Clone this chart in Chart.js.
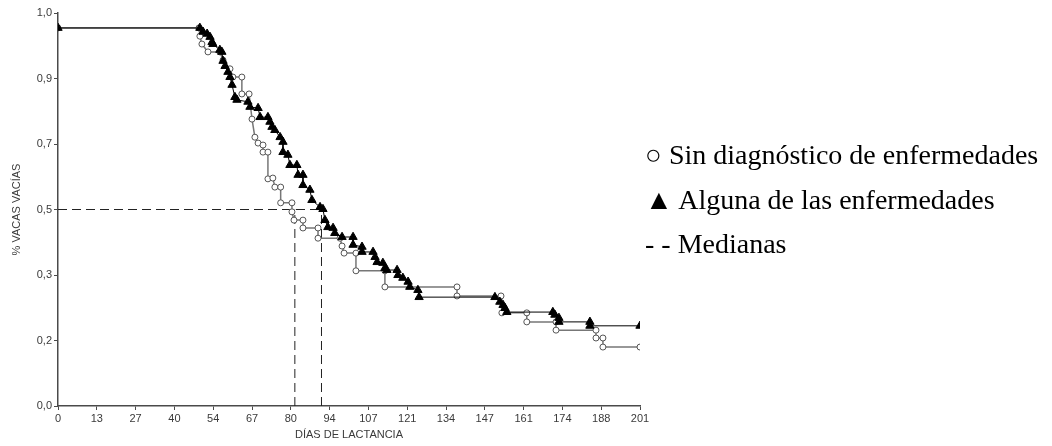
<!DOCTYPE html>
<html>
<head>
<meta charset="utf-8">
<script src="https://cdn.jsdelivr.net/npm/chart.js@4"></script>
<style>
  html, body { margin: 0; padding: 0; background: #fff; }
  body { width: 1052px; height: 446px; position: relative; overflow: hidden; }
  #wrap { position: absolute; left: 0; top: 0; width: 660px; height: 446px; }
  .leyenda { position: absolute; left: 645px; font-family: "Liberation Serif", "Times New Roman", serif; font-size: 28px; line-height: 30px; color: #000; white-space: nowrap; }
</style>
</head>
<body>
<div id="wrap"><canvas id="supervivencia"></canvas></div>
<div class="leyenda" style="top:140px">○ Sin diagnóstico de enfermedades</div>
<div class="leyenda" style="top:185px">▲ Alguna de las enfermedades</div>
<div class="leyenda" style="top:229px">- - Medianas</div>
<script>
// eje X: 0..201 en 15 intervalos, eje Y: 0..1 en 6 intervalos
const xTickLabels = ['0', '13', '27', '40', '54', '67', '80', '94', '107', '121', '134', '147', '161', '174', '188', '201'];
const yTickLabels = ['0,0', '0,2', '0,3', '0,5', '0,7', '0,9', '1,0'];
const xMax = 201;

// Sin diagnóstico de enfermedades (círculos) - esquinas de la curva
const diasSin = [0, 48.7, 49.0, 49.7, 51.8, 55.9, 57.0, 59.4, 60.4, 63.5, 63.5, 66.0, 67.0, 68.0, 69.1, 70.8, 70.8, 72.5, 72.5,
    74.2, 74.9, 76.9, 76.9, 80.8, 80.8, 81.5, 84.6, 84.6, 89.8, 89.8, 97.4, 98.1, 98.8, 102.9, 102.9, 112.9, 112.9,
    137.8, 137.8, 153.0, 153.3, 161.9, 161.9, 172.0, 172.0, 185.8, 185.8, 188.2, 188.2, 201];
const survSin = [0.962, 0.962, 0.941, 0.921, 0.901, 0.901, 0.880, 0.858, 0.837, 0.837, 0.794, 0.794, 0.730, 0.684, 0.669, 0.664, 0.646, 0.646, 0.578,
    0.580, 0.557, 0.557, 0.517, 0.517, 0.494, 0.473, 0.473, 0.453, 0.453, 0.427, 0.427, 0.407, 0.389, 0.389, 0.344, 0.344, 0.303,
    0.303, 0.280, 0.280, 0.237, 0.237, 0.214, 0.214, 0.193, 0.193, 0.173, 0.173, 0.150, 0.150];

// Alguna de las enfermedades (triángulos)
const diasAlguna = [0, 49.0, 50.1, 51.5, 52.5, 53.2, 53.5, 55.9, 56.6, 57.0, 57.7, 58.7, 59.4, 60.1, 61.1, 61.8, 65.6, 66.3, 69.1, 69.8,
    72.5, 73.2, 73.9, 74.9, 76.7, 77.7, 77.7, 79.4, 80.1, 82.5, 82.9, 84.6, 84.6, 87.0, 87.7, 90.5, 91.5, 92.2, 93.2, 95.0, 95.6,
    98.1, 101.9, 101.9, 105.0, 105.0, 108.8, 109.5, 110.2, 112.2, 112.9, 113.6, 117.1, 117.4, 119.1, 120.9, 121.5, 124.3, 124.7,
    150.9, 152.6, 153.7, 154.4, 155.0, 170.9, 171.6, 173.0, 173.0, 183.7, 183.7, 201];
const survAlguna = [0.962, 0.962, 0.952, 0.947, 0.939, 0.926, 0.921, 0.906, 0.901, 0.878, 0.865, 0.850, 0.837, 0.817, 0.786, 0.779, 0.774, 0.761, 0.758, 0.735,
    0.735, 0.723, 0.710, 0.702, 0.684, 0.672, 0.646, 0.639, 0.613, 0.613, 0.588, 0.588, 0.562, 0.550, 0.524, 0.506, 0.501, 0.473, 0.455, 0.453, 0.440,
    0.430, 0.430, 0.410, 0.405, 0.392, 0.392, 0.379, 0.366, 0.364, 0.351, 0.346, 0.346, 0.333, 0.326, 0.316, 0.303, 0.295, 0.277,
    0.277, 0.265, 0.257, 0.249, 0.239, 0.239, 0.232, 0.224, 0.214, 0.214, 0.204, 0.204];

// medianas
const medianaNivel = 0.5;
const medianaSin = 81.8;
const medianaAlguna = 91.0;

function pares(xs, ys) {
    let out = [];
    for (let i = 0; i < xs.length; i++) {
        out.push({x: xs[i], y: ys[i]});
    }
    return out;
}

const colorEje = '#4a4a4a';
const colorTexto = '#3a3a3a';
const dash = [9, 5];

new Chart(document.getElementById('supervivencia'), {
    type: 'scatter',
    data: {
        datasets: [{
            label: 'Alguna de las enfermedades',
            data: pares(diasAlguna, survAlguna),
            showLine: true,
            borderColor: '#000',
            borderWidth: 1,
            pointStyle: 'triangle',
            pointRadius: 4.8,
            backgroundColor: '#000',
            pointBackgroundColor: '#000',
            pointBorderColor: '#000'
        }, {
            label: 'Sin diagnóstico de enfermedades',
            data: pares(diasSin, survSin),
            showLine: true,
            borderColor: '#777',
            borderWidth: 1.5,
            pointStyle: 'circle',
            pointRadius: 3,
            pointBorderWidth: 1,
            pointBackgroundColor: '#fff',
            pointBorderColor: '#555'
        }, {
            label: 'mediana',
            data: [{x: 0, y: medianaNivel}, {x: medianaAlguna, y: medianaNivel}],
            showLine: true, borderColor: '#222', borderWidth: 1, borderDash: dash, pointRadius: 0
        }, {
            label: 'mediana sin',
            data: [{x: medianaSin, y: 0}, {x: medianaSin, y: medianaNivel}],
            showLine: true, borderColor: '#222', borderWidth: 1, borderDash: dash, pointRadius: 0
        }, {
            label: 'mediana alguna',
            data: [{x: medianaAlguna, y: 0}, {x: medianaAlguna, y: medianaNivel}],
            showLine: true, borderColor: '#222', borderWidth: 1, borderDash: dash, pointRadius: 0
        }]
    },
    options: {
        responsive: true,
        maintainAspectRatio: false,
        animation: false,
        layout: { padding: { top: 13, right: 20, left: 0, bottom: 0 } },
        plugins: {
            legend: { display: false },
            tooltip: { enabled: false }
        },
        scales: {
            x: {
                type: 'linear',
                min: 0,
                max: xMax,
                afterBuildTicks: function(axis) {
                    axis.ticks = xTickLabels.map((t, i) => ({value: xMax * i / (xTickLabels.length - 1)}));
                },
                afterFit: function(axis) { axis.height = 40; },
                ticks: {
                    autoSkip: false,
                    maxRotation: 0,
                    padding: 2,
                    color: colorTexto,
                    font: { family: 'Liberation Sans, Arial, sans-serif', size: 11 },
                    callback: function(value, index) { return xTickLabels[index]; }
                },
                grid: { display: true, drawOnChartArea: false, drawTicks: true, tickLength: 4, color: colorEje },
                border: { display: true, color: colorEje, width: 1.5 },
                title: {
                    display: true,
                    text: 'DÍAS DE LACTANCIA',
                    color: colorTexto,
                    padding: { top: 0 },
                    font: { family: 'Liberation Sans, Arial, sans-serif', size: 11 }
                }
            },
            y: {
                type: 'linear',
                min: 0,
                max: 1,
                afterBuildTicks: function(axis) {
                    axis.ticks = yTickLabels.map((t, i) => ({value: i / (yTickLabels.length - 1)}));
                },
                afterFit: function(axis) { axis.width = 58; },
                ticks: {
                    autoSkip: false,
                    padding: 2,
                    color: colorTexto,
                    font: { family: 'Liberation Sans, Arial, sans-serif', size: 11 },
                    callback: function(value, index) { return yTickLabels[index]; }
                },
                grid: { display: true, drawOnChartArea: false, drawTicks: true, tickLength: 4, color: colorEje },
                border: { display: true, color: colorEje, width: 1.5 },
                title: {
                    display: true,
                    text: '% VACAS VACÍAS',
                    color: colorTexto,
                    padding: { top: 10, bottom: 4 },
                    font: { family: 'Liberation Sans, Arial, sans-serif', size: 11 }
                }
            }
        }
    }
});
</script>
</body>
</html>
